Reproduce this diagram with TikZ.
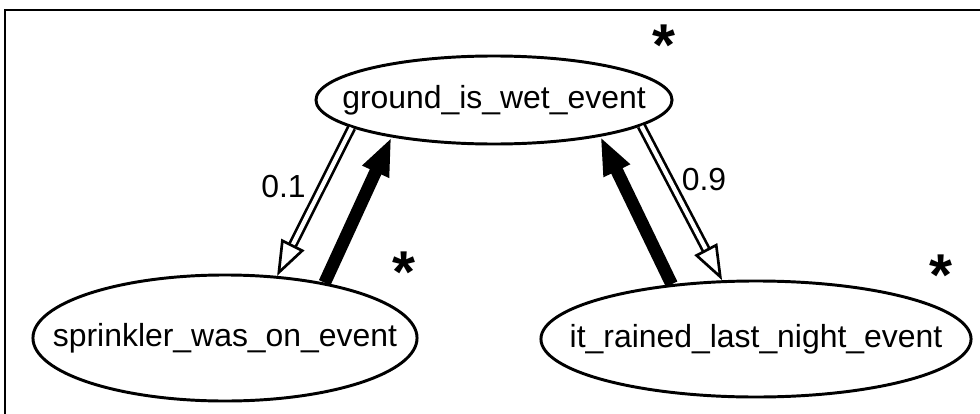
\documentclass[tikz,border=0pt]{standalone}
\usepackage{fontspec}
\setmainfont{Liberation Sans}
\usepackage{tikz}
\usetikzlibrary{positioning,arrows.meta,shapes.geometric}

% label set on the ellipse without widening it
\newcommand{\evtext}[1]{\makebox[0pt]{#1}}

\begin{document}
\begin{tikzpicture}[
  x=0.025cm, y=-0.025cm,
  font=\fontsize{22.7}{27}\selectfont,
  event/.style={draw=black, ellipse, line width=2.1pt, inner sep=0pt, fill=white},
  starmark/.style={inner sep=0pt, font=\fontsize{42}{42}\selectfont\bfseries},
  hollowarr/.style={draw=black, line width=1.9pt, double=white, double distance=3pt,
                    -{Triangle[open, length=25pt, width=18pt]}},
  fullarr/.style={draw=black, line width=9pt,
                  -{Triangle[length=27pt, width=19pt]}},
  problab/.style={inner sep=2pt},
]
\useasboundingbox (0,0) rectangle (980,414);
\draw[line width=1.4pt] (5,420) -- (5,10) -- (990,10);

%====================== EVENTS ======================
\node[event, minimum width=8.9cm, minimum height=2.2cm]   (wet)   at (494,100) {\evtext{ground\_is\_wet\_event}};
\node[event, minimum width=9.6cm, minimum height=3.15cm]  (spr)   at (225,338) {\evtext{sprinkler\_was\_on\_event}};
\node[event, minimum width=10.75cm, minimum height=2.9cm] (rain)  at (756,339) {\evtext{it\_rained\_last\_night\_event}};

%====================== STARS ======================
\node[starmark] (wetstar)  at (664,45)  {*};
\node[starmark] (sprstar)  at (404,272) {*};
\node[starmark] (rainstar) at (941,275) {*};

%====================== EDGES ======================
\draw[hollowarr] (wet.191) -- node[problab, pos=0.4, left=3mm] (p1) {0.1} (spr.50);
\draw[fullarr]   (spr.29)  -- (wet.200);
\draw[fullarr]   (rain.147) -- (wet.341);
\draw[hollowarr] (wet.350) -- node[problab, pos=0.35, right=2mm] (p9) {0.9} (rain.120);
\end{tikzpicture}
\end{document}
